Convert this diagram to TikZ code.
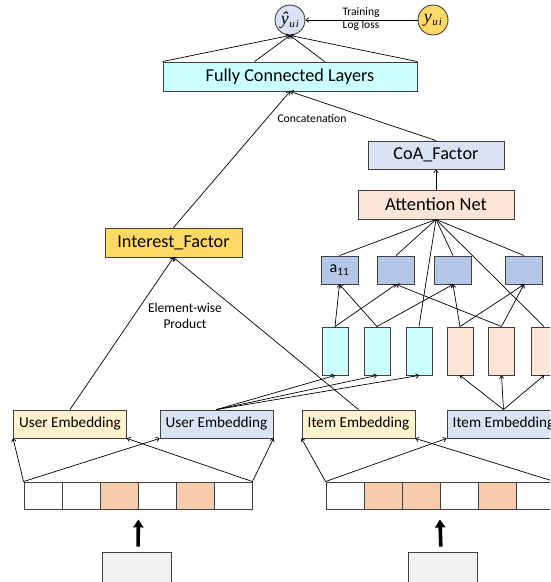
\documentclass[tikz,border=0pt]{standalone}
\usepackage{fontspec}
\setmainfont{Carlito}
\newfontfamily\serifitfam{Liberation Serif}
\usetikzlibrary{arrows.meta}
\definecolor{cyanf}{HTML}{CCFFFF}
\definecolor{lblue}{HTML}{DAE3F3}
\definecolor{mblue}{HTML}{B4C7E7}
\definecolor{peach}{HTML}{FBE5D6}
\definecolor{cellp}{HTML}{F8CBAD}
\definecolor{lyel}{HTML}{FFF2CC}
\definecolor{gold}{HTML}{FFD966}
\definecolor{lgray}{HTML}{F2F2F2}
\definecolor{edge}{HTML}{404040}
\tikzset{
  box/.style={draw=edge, line width=0.9pt, inner sep=0pt, align=center},
  circ/.style={draw=edge, line width=0.9pt, circle, minimum size=30pt, inner sep=0pt, font=\serifitfam\itshape\fontsize{18}{18}\selectfont},
  emb/.style={box, minimum width=113pt, minimum height=28pt, font=\fontsize{15.2}{16}\selectfont},
  abox/.style={box, fill=mblue, minimum width=37pt, minimum height=28pt, font=\fontsize{16}{16}\selectfont},
  col/.style={box, minimum width=26pt, minimum height=48pt},
  cell/.style={box, minimum width=38pt, minimum height=27pt},
  inbox/.style={box, fill=lgray, minimum width=69pt, minimum height=38pt},
  arr/.style={line width=0.7pt, -{To[length=3.5pt,width=5pt]}},
  ln/.style={line width=0.7pt},
  thick arr/.style={line width=3.6pt, -{Triangle[length=8pt,width=10pt]}},
  lbl/.style={inner sep=0pt, align=center}
}
\begin{document}
\begin{tikzpicture}[x=1pt, y=-1pt]
\useasboundingbox (0,0) rectangle (550,582);
\clip (0,0) rectangle (550,582);
% top
\node[circ, fill=lblue] (yhat) at (290,20) {\^{y}\kern0.5pt\raisebox{-3.5pt}{\fontsize{11}{11}\selectfont u\kern1pt i}};
\node[circ, fill=gold] (yui) at (433,20) {y\kern0.5pt\raisebox{-3.5pt}{\fontsize{11}{11}\selectfont u\kern1pt i}};
\node[lbl, font=\fontsize{11.5}{13}\selectfont] (train) at (361,19.5) {Training\\Log loss};
\draw[arr] (yui.west) -- (yhat.east);
% main boxes
\node[box, fill=cyanf, minimum width=254pt, minimum height=29pt, font=\fontsize{18.2}{19}\selectfont] (fc) at (290,76.5) {Fully Connected Layers};
\node[box, fill=lblue, minimum width=136pt, minimum height=28pt, font=\fontsize{18.2}{19}\selectfont] (coa) at (436,155) {CoA\_Factor};
\node[box, fill=peach, minimum width=156pt, minimum height=29pt, font=\fontsize{18.5}{19}\selectfont] (att) at (436,204.5) {Attention Net};
\node[box, fill=gold, minimum width=137pt, minimum height=29pt, font=\fontsize{18.2}{19}\selectfont] (intf) at (173.5,242.5) {Interest\_Factor};
\node[lbl, font=\fontsize{11.7}{12}\selectfont] (concat) at (312,118) {Concatenation};
\node[lbl, font=\fontsize{13.5}{16}\selectfont] (ewp) at (185,316) {Element-wise\\Product};
% fc to yhat
\draw[arr] (fc.north west) -- (yhat.south);
\draw[arr] ([xshift=92pt]fc.north west) -- (yhat.south);
\draw[arr] ([xshift=162pt]fc.north west) -- (yhat.south);
\draw[arr] (fc.north east) -- (yhat.south);
\draw[arr] (intf.north) -- (fc.south);
\draw[arr] (coa.north) -- (fc.south);
\draw[arr] (att.north) -- (coa.south);
% a boxes
\node[abox] (a1) at (339.5,270) {a\textsubscript{11}};
\node[abox] (a2) at (396,270) {};
\node[abox] (a3) at (453,270) {};
\node[abox] (a4) at (524,270) {};
% columns
\node[col, fill=cyanf] (c1) at (335,351) {};
\node[col, fill=cyanf] (c2) at (377,351) {};
\node[col, fill=cyanf] (c3) at (419,351) {};
\node[col, fill=peach] (p1) at (460,351) {};
\node[col, fill=peach] (p2) at (501.5,351) {};
\node[col, fill=peach] (p3) at (544,351) {};
% attention lines
\foreach \t in {a1,a2,a3,a4,c3,p3} \draw[ln] (att.south) -- (\t.north);
% columns to a boxes
\draw[arr] (c1.north) -- (a1.south);
\draw[arr] (c1.north) -- (a2.south);
\draw[arr] (c2.north) -- (a1.south);
\draw[arr] (c2.north) -- (a3.south);
\draw[arr] (p1.north) -- (a3.south);
\draw[arr] (p1.north) -- (a4.south);
\draw[arr] (p2.north) -- (a4.south);
\draw[arr] (p2.north) -- (a2.south);
% embeddings
\node[emb, fill=lyel] (ue1) at (70,424) {User Embedding};
\node[emb, fill=lblue] (ue2) at (216.5,424) {User Embedding};
\node[emb, fill=lyel] (ie1) at (358.5,424) {Item Embedding};
\node[emb, fill=lblue] (ie2) at (503.5,424) {Item Embedding};
\draw[arr] (ue1.north) -- (intf.south);
\draw[arr] (ie1.north) -- (intf.south);
\foreach \t in {c1,c2,c3} \draw[arr] (ue2.north) -- (\t.south);
\foreach \t in {p1,p2,p3} \draw[arr] (ie2.north) -- (\t.south);
% one-hot vectors
\node[cell, fill=white] (l1) at (43,495.5) {};
\node[cell, fill=white] (l2) at (81,495.5) {};
\node[cell, fill=cellp] (l3) at (119,495.5) {};
\node[cell, fill=white] (l4) at (157,495.5) {};
\node[cell, fill=cellp] (l5) at (195,495.5) {};
\node[cell, fill=white] (l6) at (233,495.5) {};
\node[cell, fill=white] (r1) at (345,495.5) {};
\node[cell, fill=cellp] (r2) at (383,495.5) {};
\node[cell, fill=cellp] (r3) at (421,495.5) {};
\node[cell, fill=white] (r4) at (459,495.5) {};
\node[cell, fill=cellp] (r5) at (497,495.5) {};
\node[cell, fill=white] (r6) at (535,495.5) {};
\draw[arr] (l1.north west) -- (ue1.south west);
\draw[arr] (l1.north west) -- (ue2.south west);
\draw[arr] (l6.north east) -- (ue1.south east);
\draw[arr] (l6.north east) -- (ue2.south east);
\draw[arr] (r1.north west) -- (ie1.south west);
\draw[arr] (r1.north west) -- (ie2.south west);
\draw[arr] (r6.north east) -- (ie1.south east);
\draw[arr] (r6.north east) -- (ie2.south east);
% inputs
\node[inbox] (in1) at (137,571) {};
\node[inbox] (in2) at (443,571) {};
\draw[thick arr, shorten <=5pt, shorten >=10pt] ([xshift=1pt]in1.north) -- ([xshift=1pt]l4.south west);
\draw[thick arr, shorten <=5pt, shorten >=10pt] ([xshift=-2pt]in2.north) -- (r4.south west);
\end{tikzpicture}
\end{document}
